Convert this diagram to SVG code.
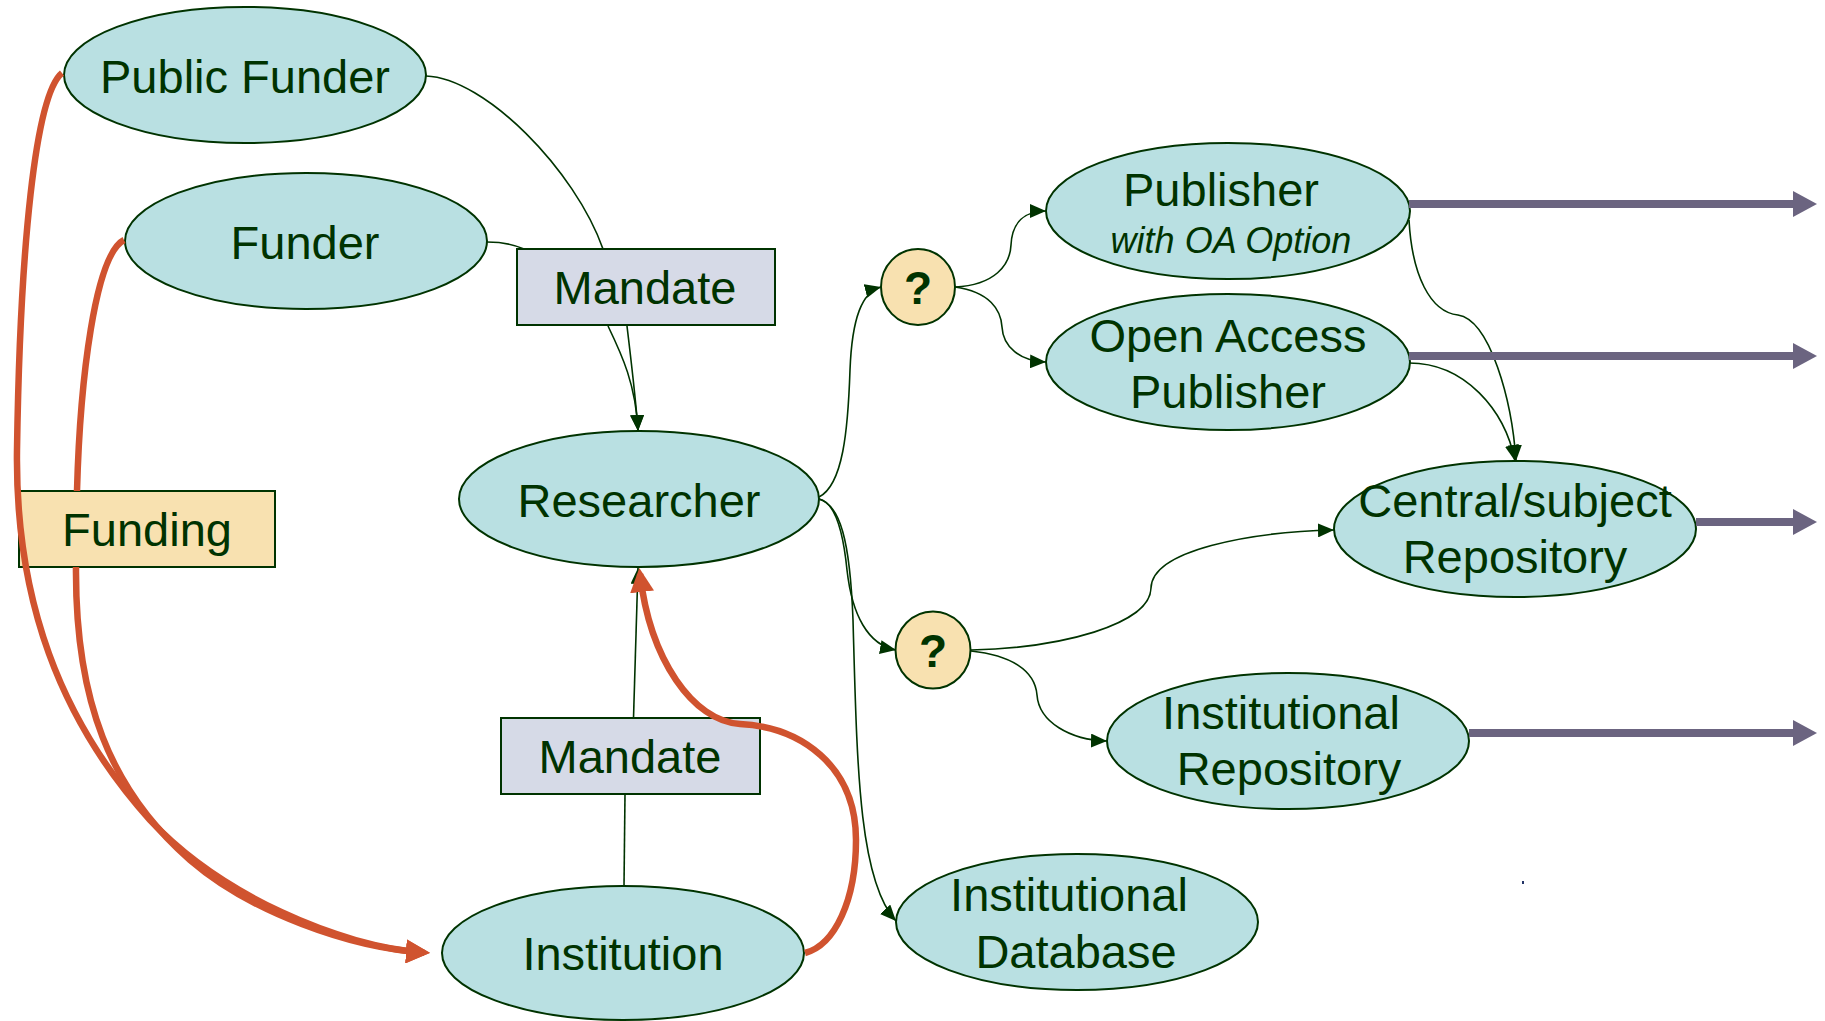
<svg xmlns="http://www.w3.org/2000/svg" width="1825" height="1021" viewBox="0 0 1825 1021">
<style>
.node{fill:#B9E0E2;stroke:#003300;stroke-width:2}
.box{stroke:#003300;stroke-width:2}
.mand{fill:#D6DAE7}
.fund{fill:#F8E1B0}
.t{font-family:"Liberation Sans",Arial,sans-serif;font-size:47px;fill:#003300;text-anchor:middle}
.ti{font-family:"Liberation Sans",Arial,sans-serif;font-size:36px;font-style:italic;fill:#003300;text-anchor:middle}
.q{font-family:"Liberation Sans",Arial,sans-serif;font-size:46px;font-weight:bold;fill:#003300;text-anchor:middle}
.thin{fill:none;stroke:#003300;stroke-width:1.6}
.red{fill:none;stroke:#D0532F;stroke-width:6.5}
.out{fill:none;stroke:#6B6480;stroke-width:8}
</style>
<defs>
<marker id="ah" markerWidth="16" markerHeight="14" refX="16" refY="7" orient="auto" markerUnits="userSpaceOnUse"><path d="M0,0 L16,7 L0,14 Z" fill="#003300"/></marker>
<marker id="rh" markerWidth="24" markerHeight="24" refX="18" refY="12" orient="auto" markerUnits="userSpaceOnUse"><path d="M0,0 L24,12 L0,24 Z" fill="#D0532F"/></marker>
<marker id="ph" markerWidth="24" markerHeight="26" refX="0" refY="13" orient="auto" markerUnits="userSpaceOnUse"><path d="M0,0 L24,13 L0,26 Z" fill="#6B6480"/></marker>
</defs>
<g id="public-funder"><ellipse class="node" cx="245" cy="75" rx="181" ry="68"/><text class="t" x="245" y="93">Public Funder</text></g>
<g id="funder"><ellipse class="node" cx="306" cy="241" rx="181" ry="68"/><text class="t" x="305" y="259">Funder</text></g>
<g id="mandate-top"><rect class="box mand" x="517" y="249" width="258" height="76"/><text class="t" x="645" y="304">Mandate</text></g>
<g id="researcher"><ellipse class="node" cx="639" cy="499" rx="180" ry="68"/><text class="t" x="639" y="517">Researcher</text></g>
<g id="funding"><rect class="box fund" x="19" y="491" width="256" height="76"/><text class="t" x="147" y="546">Funding</text></g>
<g id="mandate-bottom"><rect class="box mand" x="501" y="718" width="259" height="76"/><text class="t" x="630" y="773">Mandate</text></g>
<g id="institution"><ellipse class="node" cx="623" cy="953" rx="181" ry="67"/><text class="t" x="623" y="970">Institution</text></g>
<g id="q-top"><ellipse class="node" style="fill:#F8E1B0" cx="918" cy="287" rx="37" ry="38"/><text class="q" x="918" y="304">?</text></g>
<g id="q-bottom"><ellipse class="node" style="fill:#F8E1B0" cx="933" cy="650" rx="37.5" ry="38.5"/><text class="q" x="933" y="667">?</text></g>
<g id="publisher"><ellipse class="node" cx="1228" cy="211" rx="182" ry="68"/><text class="t" x="1221" y="206">Publisher</text><text class="ti" x="1231" y="253">with OA Option</text></g>
<g id="oa-publisher"><ellipse class="node" cx="1228" cy="362" rx="182" ry="68"/><text class="t" x="1228" y="352">Open Access</text><text class="t" x="1228" y="408">Publisher</text></g>
<g id="central-repository"><ellipse class="node" cx="1515" cy="529" rx="181" ry="68"/><text class="t" x="1515" y="517">Central/subject</text><text class="t" x="1515" y="573">Repository</text></g>
<g id="institutional-repository"><ellipse class="node" cx="1288" cy="741" rx="181" ry="68"/><text class="t" x="1281" y="729">Institutional</text><text class="t" x="1289" y="785">Repository</text></g>
<g id="institutional-database"><ellipse class="node" cx="1077" cy="922" rx="181" ry="68"/><text class="t" x="1069" y="911">Institutional</text><text class="t" x="1076" y="968">Database</text></g>
<rect x="1522" y="881" width="2" height="3" fill="#223366"/>
<g id="connectors">
<path class="thin" d="M426,76 C485,78 575,170 603,249"/>
<path class="thin" d="M487,242 C505,242 515,245 524,249"/>
<path class="thin" d="M608,326 C622,355 636,385 638,431" marker-end="url(#ah)"/>
<path class="thin" d="M627,326 C631,360 636,400 638,431" marker-end="url(#ah)"/>
<path class="thin" d="M819,497 C843,485 848,430 850,370 C852,318 862,292 881,287" marker-end="url(#ah)"/>
<path class="thin" d="M819,499 C835,502 843,530 847,570 C852,615 868,645 896,650" marker-end="url(#ah)"/>
<path class="thin" d="M819,499 C840,505 850,540 853,620 C857,760 858,880 896,921" marker-end="url(#ah)"/>
<path class="thin" d="M955,287 C995,285 1010,265 1011,245 C1012,222 1025,211 1046,211" marker-end="url(#ah)"/>
<path class="thin" d="M955,287 C990,292 1001,310 1002,327 C1003,347 1020,361 1046,362" marker-end="url(#ah)"/>
<path class="thin" d="M1409,220 C1412,275 1430,312 1458,315 C1490,320 1512,400 1516,461" marker-end="url(#ah)"/>
<path class="thin" d="M1409,363 C1465,363 1505,410 1515,461" marker-end="url(#ah)"/>
<path class="thin" d="M971,650 C1060,648 1150,625 1151,588 C1152,550 1250,532 1334,530" marker-end="url(#ah)"/>
<path class="thin" d="M971,651 C1010,655 1035,670 1037,695 C1039,722 1070,740 1107,741" marker-end="url(#ah)"/>
<path class="thin" d="M624,886 L625,794"/>
<path class="thin" d="M633.5,718 L638,568" marker-end="url(#ah)"/>
<path class="red" d="M62,73 C35,95 20,250 17,450 C15,600 60,720 150,820 C220,895 340,947 424,952.5" marker-end="url(#rh)"/>
<path class="red" d="M124,240 C95,255 80,380 77,491"/>
<path class="red" d="M76,567 C75,700 110,790 190,860 C250,912 350,948 424,952.5" marker-end="url(#rh)"/>
<path class="red" d="M805,953 C835,945 856,900 856,840 C856,765 800,727 740,724 C693,721 650,660 640,574" marker-end="url(#rh)"/>
<path class="out" d="M1409,204 L1793,204" marker-end="url(#ph)"/>
<path class="out" d="M1409,356 L1793,356" marker-end="url(#ph)"/>
<path class="out" d="M1696,522 L1793,522" marker-end="url(#ph)"/>
<path class="out" d="M1469,733 L1793,733" marker-end="url(#ph)"/>
</g>
</svg>
